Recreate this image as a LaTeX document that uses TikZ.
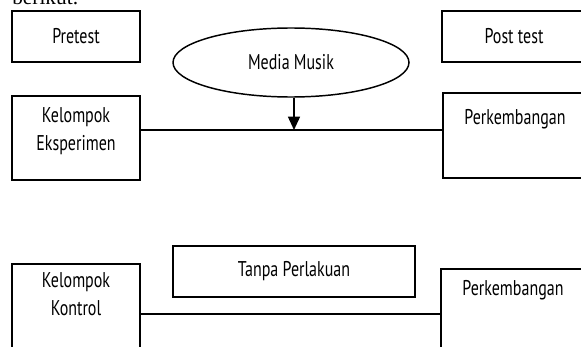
\documentclass[tikz,border=0pt]{standalone}
\usepackage{fontspec}
\setmainfont{PT Sans}[FakeStretch=0.75]
\newfontfamily\introfont{Liberation Serif}
\usetikzlibrary{arrows.meta, positioning, shapes.geometric}

\begin{document}
\begin{tikzpicture}[x=0.75pt, y=-0.75pt,
      every node/.style={font=\fontsize{16}{21}\selectfont},
      box/.style={draw, line width=1.1pt, inner sep=0pt, align=center,
                  minimum width=96pt},
      wide/.style={box, minimum width=108pt},
      lbl/.style={anchor=north, align=center, inner sep=0pt, yshift=-9pt}]
    \useasboundingbox (0,0) rectangle (581,346);
    \node[anchor=base west, inner sep=0pt, font=\introfont\fontsize{16}{19}\selectfont]
      (intro) at (12,5) {berikut:};
    % upper row
    \node[box, minimum height=38.25pt] (pre) at (76,36.5) {Pretest};
    \node[draw, ellipse, line width=1.1pt, minimum width=177pt, minimum height=51.75pt,
          inner sep=0pt] (media) at (291,62.5) {Media Musik};
    \node[wide, minimum height=38.25pt] (post) at (514,36.5) {Post test};
    \node[box, minimum height=63pt,
          label={[lbl, name=kel1]north:Kelompok\\Eksperimen}] (eks) at (76,138) {};
    \node[wide, minimum height=63.75pt,
          label={[lbl, name=per1, yshift=-4pt]north:Perkembangan}] (dev1) at (515,135.5) {};
    \coordinate (j1) at (294,130);
    \draw[line width=1.1pt] (eks.east |- j1) -- (dev1.west |- j1);
    \draw[line width=1.1pt, -{Triangle[width=9pt, length=10pt]}] (media.south -| j1) -- (j1);
    % lower row
    \node[box, minimum width=181.5pt, minimum height=38.25pt] (none) at (294,271.5) {Tanpa Perlakuan};
    \node[box, minimum height=72pt,
          label={[lbl, name=kel2, yshift=2pt]north:Kelompok\\Kontrol}] (ctl) at (76,312) {};
    \node[wide, minimum height=68.25pt,
          label={[lbl, name=per2]north:Perkembangan}] (dev2) at (513,314.5) {};
    \coordinate (j2) at (294,314);
    \draw[line width=1.1pt] (ctl.east |- j2) -- (dev2.west |- j2);
\end{tikzpicture}
\end{document}
